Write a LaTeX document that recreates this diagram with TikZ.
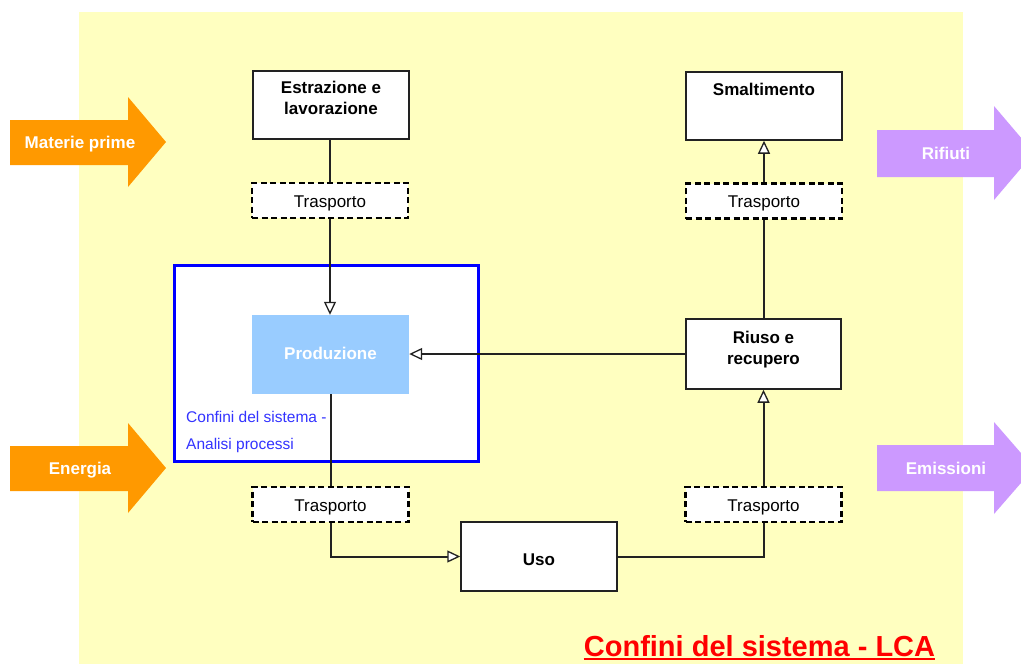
\documentclass[tikz,border=0pt]{standalone}
\usepackage{fontspec}
\setmainfont{Liberation Sans}
\usetikzlibrary{arrows.meta}
\definecolor{bgyellow}{HTML}{FFFFC0}
\definecolor{arrorange}{HTML}{FF9900}
\definecolor{arrpurple}{HTML}{CC99FF}
\definecolor{prodblue}{HTML}{99CCFF}
\definecolor{sysblue}{HTML}{0000FF}
\definecolor{systext}{HTML}{3333FF}
\definecolor{linec}{HTML}{222222}
\definecolor{titred}{HTML}{FF0000}
\tikzset{
  box/.style={draw=linec, line width=1.5pt, fill=white, inner sep=0pt},
  transbox/.style={draw=black, line width=2.5pt, dash pattern=on 6pt off 3.5pt, fill=white,
    minimum width=156pt, minimum height=35pt, inner sep=0pt},
  ttext/.style={font=\fontsize{17}{20}\selectfont, inner sep=0pt},
  btext/.style={font=\fontsize{17}{20.5}\selectfont\bfseries, align=center, inner sep=0pt},
  wtext/.style={font=\fontsize{17}{20}\selectfont\bfseries, text=white, inner sep=0pt},
  conn/.style={draw=linec, line width=2pt},
  arr/.style={conn, -{Triangle[fill=white, length=13pt, width=12pt, line width=1.3pt]}},
  systxt/.style={font=\fontsize{15.5}{18}\selectfont, text=systext, anchor=west, inner sep=0pt},
}
\begin{document}
\begin{tikzpicture}[x=1pt,y=-1pt]
\useasboundingbox (0,0) rectangle (1021,664);
\clip (0,0) rectangle (1021,664);
\fill[white] (0,0) rectangle (1021,664);
\fill[bgyellow] (79,12) rectangle (963,664);

% block arrows
\fill[arrorange] (10,120) -- (128,120) -- (128,97) -- (166,142) -- (128,187) -- (128,165) -- (10,165) -- cycle;
\node[wtext] (mat) at (80,144) {Materie prime};
\fill[arrorange] (10,446) -- (128,446) -- (128,423) -- (166,468) -- (128,513) -- (128,491) -- (10,491) -- cycle;
\node[wtext] (ene) at (80,470) {Energia};
\fill[arrpurple] (877,130) -- (994,130) -- (994,106) -- (1034,153) -- (994,200) -- (994,177) -- (877,177) -- cycle;
\node[wtext] (rif) at (946,153) {Rifiuti};
\fill[arrpurple] (877,445) -- (994,445) -- (994,422) -- (1034,468) -- (994,514) -- (994,491) -- (877,491) -- cycle;
\node[wtext] (emi) at (946,468) {Emissioni};

% system boundary
\node[draw=sysblue, line width=3pt, fill=white, minimum width=304pt, minimum height=196pt, inner sep=0pt] (sys) at (326,363) {};
\node[systxt] (sys1) at (186,416.5) {Confini del sistema -};
\node[systxt] (sys2) at (186,445.5) {Analisi processi};

% boxes
\node[box, minimum width=156pt, minimum height=68pt] (estr) at (331,105) {};
\node[btext, anchor=north] (estrT) at (331,81) {Estrazione e\\lavorazione};
\node[box, minimum width=156pt, minimum height=68pt] (smal) at (764,106) {};
\node[btext, anchor=north] (smalT) at (764,83) {Smaltimento};
\node[fill=prodblue, minimum width=157pt, minimum height=79pt, inner sep=0pt] (prod) at (330.5,354.5) {};
\node[wtext] (prodT) at (330.5,353) {Produzione};
\node[box, minimum width=155pt, minimum height=70pt] (riuso) at (763.5,354) {};
\node[btext] (riusoT) at (763.5,349.5) {Riuso e\\recupero};
\node[box, minimum width=156pt, minimum height=69pt] (uso) at (539,556.5) {};
\node[btext] (usoT) at (539,560) {Uso};

\node[transbox] (t1) at (330,200.5) {};
\node[ttext] (t1T) at (330,203) {Trasporto};
\node[transbox] (t2) at (764,201) {};
\node[ttext] (t2T) at (764,203.5) {Trasporto};
\node[transbox] (t3) at (330.5,504.5) {};
\node[ttext] (t3T) at (330.5,507) {Trasporto};
\node[transbox] (t4) at (763.5,504.5) {};
\node[ttext] (t4T) at (763.5,507) {Trasporto};

% connectors
\draw[conn] (estr.south -| t1) -- (t1.north);
\draw[arr] (t1.south) -- (t1.south |- prod.north);
\draw[conn] (prod.south) -- (t3.north -| prod.south);
\draw[arr] (t3.south) |- (uso.west);
\draw[conn] (uso.east) -| (t4.south);
\draw[arr] (t4.north) -- (riuso.south);
\draw[conn] (riuso.north) -- (t2.south -| riuso.north);
\draw[arr] (t2.north) -- (smal.south);
\draw[arr] (riuso.west) -- (riuso.west -| prod.east);

% title
\node[font=\fontsize{29}{33}\selectfont\bfseries, text=titred, inner sep=0pt] (title) at (759.5,646.5) {Confini del sistema - LCA};
\draw[titred, line width=2pt] ([yshift=-1.5pt]title.south west) -- ([yshift=-1.5pt]title.south east);
\end{tikzpicture}
\end{document}
